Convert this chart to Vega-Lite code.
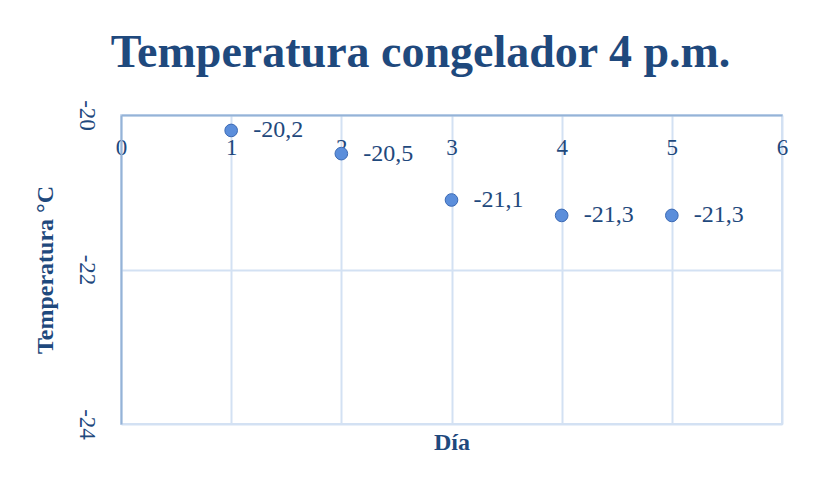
{
  "$schema": "https://vega.github.io/schema/vega-lite/v6.json",
  "width": 661,
  "height": 309,
  "autosize": {"type": "none"},
  "padding": {"left": 121, "top": 115, "right": 37, "bottom": 57},
  "background": "white",
  "title": {
    "text": "Temperatura congelador 4 p.m.",
    "font": "Liberation Serif",
    "fontSize": 46,
    "fontWeight": "bold",
    "color": "#1F497D",
    "anchor": "middle",
    "dx": -31,
    "offset": 23
  },
  "data": {
    "values": [
      {"dia": 1, "temp": -20.2, "label": "-20,2"},
      {"dia": 2, "temp": -20.5, "label": "-20,5"},
      {"dia": 3, "temp": -21.1, "label": "-21,1"},
      {"dia": 4, "temp": -21.3, "label": "-21,3"},
      {"dia": 5, "temp": -21.3, "label": "-21,3"}
    ]
  },
  "encoding": {
    "x": {
      "field": "dia",
      "type": "quantitative",
      "scale": {"domain": [0, 6], "nice": false, "zero": false},
      "axis": {
        "orient": "top",
        "values": [0, 1, 2, 3, 4, 5, 6],
        "labelFlush": false,
        "ticks": false,
        "tickSize": 0,
        "labelPadding": -21,
        "labelBaseline": "top",
        "labelFont": "Liberation Serif",
        "labelFontSize": 23,
        "labelColor": "#1F497D",
        "domainColor": "#95B3D7",
        "domainWidth": 2,
        "gridColor": "#D3E1F3",
        "gridWidth": 2,
        "title": "Día",
        "titleFont": "Liberation Serif",
        "titleFontSize": 24,
        "titleFontWeight": "bold",
        "titleColor": "#1F497D",
        "titleY": 327,
        "titleBaseline": "middle"
      }
    },
    "y": {
      "field": "temp",
      "type": "quantitative",
      "scale": {"domain": [-24, -20], "nice": false, "zero": false},
      "axis": {
        "values": [-20, -22, -24],
        "labelExpr": "'' + datum.value",
        "labelFlush": false,
        "ticks": false,
        "tickSize": 0,
        "labelAngle": 90,
        "labelAlign": "center",
        "labelBaseline": "bottom",
        "labelPadding": 47,
        "labelFont": "Liberation Serif",
        "labelFontSize": 23,
        "labelColor": "#1F497D",
        "domainColor": "#95B3D7",
        "domainWidth": 2,
        "gridColor": "#D3E1F3",
        "gridWidth": 2,
        "title": "Temperatura °C",
        "titleFont": "Liberation Serif",
        "titleFontSize": 24,
        "titleFontWeight": "bold",
        "titleColor": "#1F497D",
        "titleX": -76,
        "titleAngle": -90,
        "titleBaseline": "middle",
        "titleAlign": "center"
      }
    }
  },
  "layer": [
    {
      "mark": {"type": "point", "filled": true, "size": 160, "color": "#5B8EDB", "stroke": "#3C6AB4", "strokeWidth": 1, "opacity": 1}
    },
    {
      "mark": {"type": "text", "align": "left", "baseline": "middle", "dx": 22, "font": "Liberation Serif", "fontSize": 24, "color": "#1F497D"},
      "encoding": {"text": {"field": "label"}}
    }
  ],
  "config": {"view": {"stroke": "#D3E1F3", "strokeWidth": 2}}
}
